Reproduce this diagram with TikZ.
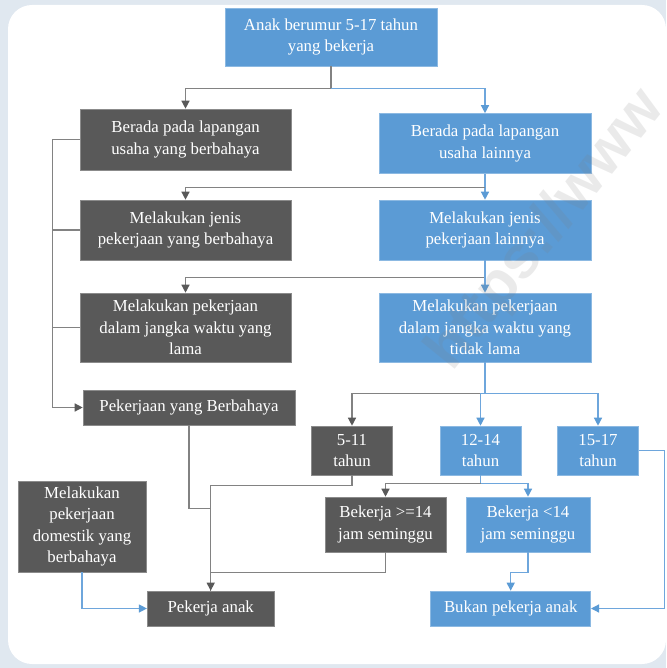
\documentclass[tikz,border=0pt]{standalone}
\usepackage{fontspec}
\setmainfont{Liberation Serif}
\newfontfamily\markfont{Liberation Sans}
\usetikzlibrary{arrows.meta}
\definecolor{boxblue}{RGB}{91,155,213}
\definecolor{boxdark}{RGB}{89,89,89}
\definecolor{linegray}{RGB}{130,130,130}
\definecolor{lineblue}{RGB}{110,166,220}
\definecolor{backdrop}{RGB}{224,232,240}
\tikzset{
  box/.style      = {rectangle,text=white,align=center,inner sep=0pt,
                     font=\fontsize{16.8}{21.5}\selectfont},
  darkbox/.style  = {box,fill=boxdark,draw=boxdark!70!white,line width=0.6pt},
  bluebox/.style  = {box,fill=boxblue,draw=boxblue!70!white,line width=0.6pt},
  wh/.style 2 args = {minimum width=#1,minimum height=#2},
  grayline/.style = {linegray,line width=1.3pt},
  blueline/.style = {lineblue,line width=1.3pt},
  grayarr/.style  = {grayline,-{Triangle[length=8pt,width=8pt,color=boxdark]}},
  bluearr/.style  = {blueline,-{Triangle[length=8pt,width=8pt,color=boxblue]}}
}

\begin{document}
\begin{tikzpicture}[x=1pt,y=-1pt]
  \useasboundingbox (0,0) rectangle (666,668);
  \clip (0,0) rectangle (666,668);
  \fill[backdrop] (0,0) rectangle (666,668);
  \fill[white,rounded corners=24pt] (8,5) rectangle (666,664);
  % boxes
  \node[bluebox,wh={212}{58}] (top) at (331,37) {Anak berumur 5-17 tahun\\yang bekerja};
  \node[darkbox,wh={211}{61}] (hazSector) at (185.5,139.5) {Berada pada lapangan\\usaha yang berbahaya};
  \node[bluebox,wh={212}{60}] (othSector) at (485,143.5) {Berada pada lapangan\\usaha lainnya};
  \node[darkbox,wh={211}{60}] (hazJob) at (185.5,230) {Melakukan jenis\\pekerjaan yang berbahaya};
  \node[bluebox,wh={212}{60}] (othJob) at (485,230) {Melakukan jenis\\pekerjaan lainnya};
  \node[darkbox,wh={211}{69}] (longHours) at (185.5,327.5) {Melakukan pekerjaan\\dalam jangka waktu yang\\lama};
  \node[bluebox,wh={212}{69}] (shortHours) at (485,327.5) {Melakukan pekerjaan\\dalam jangka waktu yang\\tidak lama};
  \node[darkbox,wh={212}{35}] (hazWork) at (189,407.5) {Pekerjaan yang Berbahaya};
  \node[darkbox,wh={81}{49}] (age511) at (352,450.5) {5-11\\tahun};
  \node[bluebox,wh={81}{49}] (age1214) at (480.5,450.5) {12-14\\tahun};
  \node[bluebox,wh={81}{49}] (age1517) at (598,450.5) {15-17\\tahun};
  \node[darkbox,wh={128}{91}] (domestic) at (82,526.5) {Melakukan\\pekerjaan\\domestik yang\\berbahaya};
  \node[darkbox,wh={121}{55}] (over14) at (385.5,524.5) {Bekerja >=14\\jam seminggu};
  \node[bluebox,wh={124}{55}] (under14) at (528,524.5) {Bekerja <14\\jam seminggu};
  \node[darkbox,wh={127}{35}] (childLab) at (210.7,608.5) {Pekerja anak};
  \node[bluebox,wh={160}{35}] (notChildLab) at (510.7,608.5) {Bukan pekerja anak};
  % connectors
  \draw[grayline] (top.south) -- ++(0,22) coordinate (j1);
  \draw[grayarr] (j1) -| (hazSector.north);
  \draw[bluearr] (j1) -| (othSector.north);
  \draw[blueline] (othSector.south) -- ++(0,14) coordinate (j2);
  \draw[grayarr] (j2) -| (hazJob.north);
  \draw[bluearr] (j2) -- (othJob.north);
  \draw[blueline] (othJob.south) -- ++(0,17) coordinate (j3);
  \draw[grayarr] (j3) -| (longHours.north);
  \draw[bluearr] (j3) -- (shortHours.north);
  \draw[grayarr] (hazSector.west) -- ++(-27,0) |- (hazWork.west);
  \draw[grayline] (hazJob.west) -- ++(-27,0);
  \draw[grayline] (longHours.west) -- ++(-27,0);
  \draw[blueline] (shortHours.south) -- ++(0,31) coordinate (j4);
  \draw[grayarr] (j4) -| (age511.north);
  \draw[bluearr] (j4) -| (age1214.north);
  \draw[bluearr] (j4) -| (age1517.north);
  \draw[blueline] (age1214.south) -- ++(0,8) coordinate (j5);
  \draw[grayarr] (j5) -| (over14.north);
  \draw[bluearr] (j5) -| (under14.north);
  \draw[grayline] (hazWork.south) -- ++(0,83) -| (childLab.north);
  \draw[grayline] (over14.south) -- ++(0,20) -| (childLab.north);
  \draw[grayarr] (age511.south) -- ++(0,10) -| (childLab.north);
  \draw[bluearr] (under14.south) -- ++(0,20) -| (notChildLab.north);
  \draw[bluearr] (age1517.east) -- ++(26,0) |- (notChildLab.east);
  \draw[bluearr] (domestic.south) |- (childLab.west);
  % watermark
  \node[rotate=51,anchor=base west,text=gray,opacity=0.16,
        font=\markfont\bfseries\fontsize{60}{60}\selectfont] (mark) at (450,375) {https://www};
\end{tikzpicture}
\end{document}
